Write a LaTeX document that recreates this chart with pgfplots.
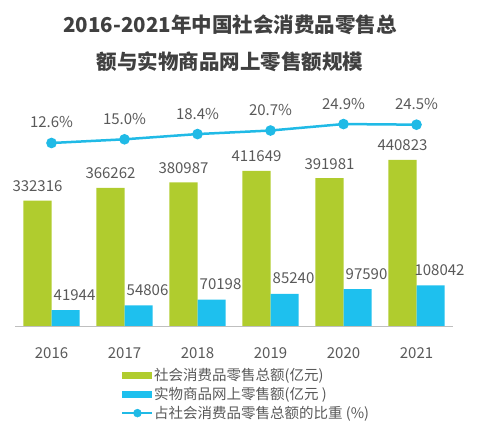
\documentclass[border=0pt]{standalone}
\usepackage{fontspec}
\setmainfont{Noto Sans CJK SC}
\usepackage{pgfplots}
\pgfplotsset{compat=1.18}
\definecolor{cgreen}{RGB}{176,204,46}
\definecolor{cblue}{RGB}{30,192,238}
\definecolor{cline}{RGB}{32,186,230}
\definecolor{ctext}{RGB}{89,89,89}
\definecolor{ctitle}{RGB}{64,64,64}
\begin{document}
\begin{tikzpicture}[x=1pt,y=1pt]
\useasboundingbox (0,0) rectangle (481,433);
\node[font=\bfseries\fontsize{20.5}{24}\selectfont, text=ctitle] at (230,408) {2016-2021年中国社会消费品零售总};
\node[font=\bfseries\fontsize{20.5}{24}\selectfont, text=ctitle] at (230,371) {额与实物商品网上零售额规模};
\begin{axis}[
  at={(15pt,107pt)}, anchor=south west, scale only axis,
  width=438pt, height=226.2pt,
  xmin=-0.5, xmax=5.5, ymin=0, ymax=600000,
  clip=false,
  axis y line=none, axis x line*=bottom,
  x axis line style={draw=black!25, line width=0.8pt},
  xtick={0,1,2,3,4,5}, xticklabels={2016,2017,2018,2019,2020,2021},
  major tick length=0pt,
  xticklabel style={font=\fontsize{15}{18}\selectfont, text=ctext, anchor=base, yshift=-32pt},
  ybar=0pt, bar width=0.384,
  nodes near coords, point meta=explicit symbolic,
  every node near coord/.append style={font=\fontsize{15}{18}\selectfont, text=ctext, anchor=base, inner sep=0pt},
  legend style={at={(0.2351,-0.177)}, anchor=north west, draw=none, fill=none,
    font=\fontsize{14.5}{17}\selectfont, text=ctext, row sep=4pt,
    nodes={inner sep=0.5pt}},
  legend cell align=left,
]
\addplot[draw=none, fill=cgreen, every node near coord/.append style={yshift=9pt},
  legend image code/.code={\fill[cgreen] (0pt,-3.5pt) rectangle (30pt,3.5pt);}] coordinates {
  (0,332316) [332316] (1,366262) [366262] (2,380987) [380987]
  (3,411649) [411649] (4,391981) [391981] (5,440823) [440823]};
\addlegendentry{社会消费品零售总额(亿元)}
\addplot[draw=none, fill=cblue, every node near coord/.append style={yshift=10pt, xshift=9pt},
  legend image code/.code={\fill[cblue] (0pt,-3.5pt) rectangle (30pt,3.5pt);}] coordinates {
  (0,41944) [41944] (1,54806) [54806] (2,70198) [70198]
  (3,85240) [85240] (4,97590) [97590] (5,108042) [108042]};
\addlegendentry{实物商品网上零售额(亿元 )}
\addlegendimage{legend image code/.code={\draw[cline, line width=2.5pt] (0pt,0pt) -- (30pt,0pt); \fill[cline] (15pt,0pt) circle (4pt);}}
\addlegendentry{占社会消费品零售总额的比重 (\%)}
\end{axis}
\begin{axis}[
  at={(15pt,107pt)}, anchor=south west, scale only axis,
  width=438pt, height=226.2pt,
  xmin=-0.5, xmax=5.5, ymin=-106.2, ymax=40.65,
  clip=false, hide axis,
  nodes near coords, point meta=explicit symbolic,
  every node near coord/.append style={font=\fontsize{15}{18}\selectfont, text=ctext, anchor=base, inner sep=0pt, yshift=15pt},
]
\addplot[cline, line width=2.5pt, mark=*, mark size=4pt, mark options={fill=cline, draw=cline}] coordinates {
  (0,12.6) [12.6\%] (1,15.0) [15.0\%] (2,18.4) [18.4\%]
  (3,20.7) [20.7\%] (4,24.9) [24.9\%] (5,24.5) [24.5\%]};
\end{axis}
\end{tikzpicture}
\end{document}
